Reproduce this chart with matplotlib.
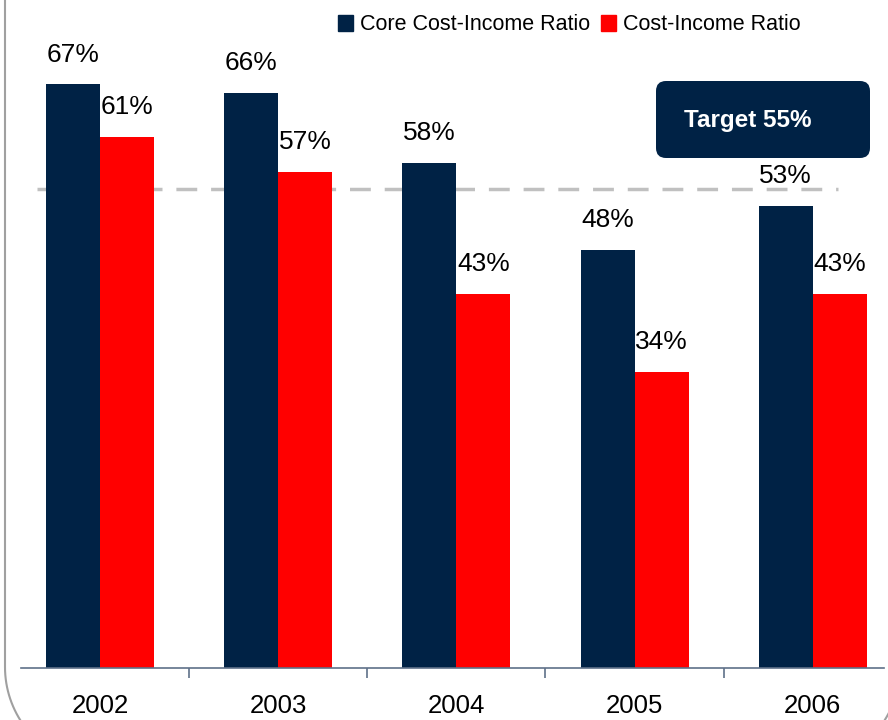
import matplotlib.pyplot as plt
import numpy as np
from matplotlib.patches import FancyBboxPatch, Patch

plt.rcParams['font.family'] = ['Liberation Sans', 'DejaVu Sans']

years = ['2002', '2003', '2004', '2005', '2006']
core_ratio = [67, 66, 58, 48, 53]
cost_ratio = [61, 57, 43, 34, 43]
target = 55

navy = '#002245'
red = '#ff0000'
axis_col = '#5f7189'

fig = plt.figure(figsize=(8.88, 7.2), dpi=100)

# background overlay in pixel coords for the rounded frame
bg = fig.add_axes([0, 0, 1, 1], zorder=0)
bg.set_xlim(0, 888)
bg.set_ylim(720, 0)
bg.axis('off')

R = 100
t = np.linspace(np.pi, np.pi / 2, 40)
left_x = np.r_[5, 5 + R + R * np.cos(t)]
left_y = np.r_[-10, 667 + R * np.sin(t)]
bg.plot(left_x, left_y, color='#a0a0a0', lw=1.5)
t2 = np.linspace(np.pi / 2, 0, 40)
bg.plot(800 + R * np.cos(t2), 667 + R * np.sin(t2), color='#a0a0a0', lw=1.5)

ax = fig.add_axes([21 / 888, 52 / 720, 863 / 888, 668 / 720], zorder=1)
ax.patch.set_alpha(0)
x = np.arange(len(years))
w = 0.303
b1 = ax.bar(x - w / 2, core_ratio, w, color=navy, label='Core Cost-Income Ratio')
b2 = ax.bar(x + w / 2, cost_ratio, w, color=red, label='Cost-Income Ratio')

for bars, vals in [(b1, core_ratio), (b2, cost_ratio)]:
    for r, v in zip(bars, vals):
        ax.annotate(f'{v}%', (r.get_x() + r.get_width() / 2, v),
                    xytext=(0, 16.5), textcoords='offset points',
                    ha='center', va='baseline', fontsize=19)

ax.hlines(target, -0.353, 4.14, colors='#c0c0c0', lw=2.5,
          linestyles=(0, (6, 4)), zorder=0.5)

ax.set_xlim(-0.443, 4.40)
ax.set_ylim(0, 76.7)
for s in ['top', 'right', 'left']:
    ax.spines[s].set_visible(False)
ax.spines['bottom'].set_color(axis_col)
ax.spines['bottom'].set_linewidth(1.2)
ax.set_yticks([])
ax.set_xticks(x)
ax.set_xticklabels(years, fontsize=18.5)
ax.tick_params(axis='x', which='major', length=0, pad=19)
ax.set_xticks(x[:-1] + 0.5, minor=True)
ax.tick_params(axis='x', which='minor', length=7, width=1.2, color=axis_col, direction='out')

# target box
bg.add_patch(FancyBboxPatch((656, 81), 214, 77,
                            boxstyle='round,pad=0,rounding_size=10',
                            fc=navy, ec='none', zorder=2))
bg.text(748, 121, f'Target {target}%', color='white', fontsize=17.5,
        fontweight='bold', ha='center', va='center', zorder=3)

handles = [Patch(color=navy), Patch(color=red)]
fig.legend(handles, ['Core Cost-Income Ratio', 'Cost-Income Ratio'],
           loc='center', bbox_to_anchor=(569 / 888, 1 - 25 / 720),
           ncol=2, frameon=False, fontsize=15.5, handlelength=0.72,
           handleheight=0.72, handletextpad=0.3, columnspacing=0.5,
           borderpad=0)

fig.savefig('out.png', dpi=100)
